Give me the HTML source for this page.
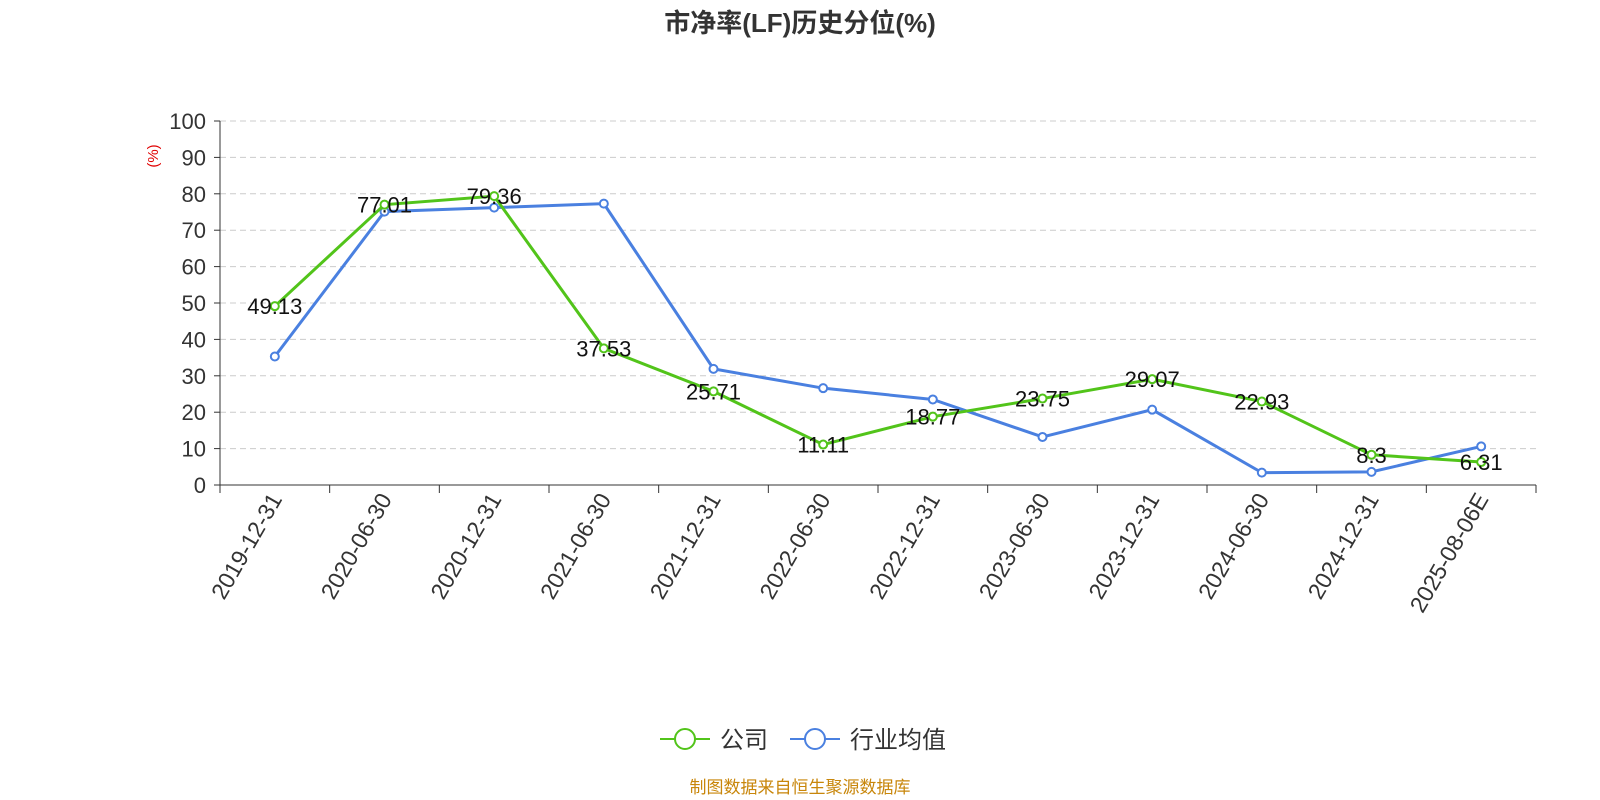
<!DOCTYPE html>
<html><head><meta charset="utf-8">
<style>
body{margin:0;background:#fff;}
svg{display:block;font-family:"Liberation Sans","Noto Sans CJK SC",sans-serif;}
</style></head>
<body>
<svg id="chart" width="1600" height="800" viewBox="0 0 1600 800">
<text x="800" y="32" text-anchor="middle" font-size="26" font-weight="bold" fill="#333">市净率(LF)历史分位(%)</text>
<text x="158" y="156" font-size="15" fill="#e00000" transform="rotate(-90 158 156)" text-anchor="middle">(%)</text>
<g id="grid"></g><g id="axes"></g><g id="series"></g>
<g>
<g>
<line x1="660" y1="739" x2="710" y2="739" stroke="#52c41a" stroke-width="2"/>
<circle cx="685" cy="739" r="10" fill="#fff" stroke="#52c41a" stroke-width="2"/>
<text x="720" y="748" font-size="24" fill="#333">公司</text></g>
<g>
<line x1="790" y1="739" x2="840" y2="739" stroke="#4a80e0" stroke-width="2"/>
<circle cx="815" cy="739" r="10" fill="#fff" stroke="#4a80e0" stroke-width="2"/>
<text x="850" y="748" font-size="24" fill="#333">行业均值</text></g>
</g>
<text x="800" y="793" text-anchor="middle" font-size="17" fill="#c8860a">制图数据来自恒生聚源数据库</text>
</svg>
<script>
const categories=["2019-12-31","2020-06-30","2020-12-31","2021-06-30","2021-12-31","2022-06-30","2022-12-31","2023-06-30","2023-12-31","2024-06-30","2024-12-31","2025-08-06E"];
const companyValues=[49.13,77.01,79.36,37.53,25.71,11.11,18.77,23.75,29.07,22.93,8.3,6.31];
const industryValues=[35.3,75.1,76.2,77.3,31.9,26.6,23.5,13.2,20.7,3.4,3.6,10.6];
const yTicks=[0,10,20,30,40,50,60,70,80,90,100];
const NS="http://www.w3.org/2000/svg";
const X0=220,X1=1536,Y0=485,Y1=121;
const band=(X1-X0)/categories.length;
const xPos=i=>X0+band*(i+0.5);
const yPos=v=>Y0-(v/100)*(Y0-Y1);
function mk(tag,attrs,parent){const e=document.createElementNS(NS,tag);for(const k in attrs)e.setAttribute(k,attrs[k]);parent.appendChild(e);return e;}
const grid=document.getElementById('grid'),axes=document.getElementById('axes'),series=document.getElementById('series');
yTicks.forEach(t=>{
 const y=yPos(t);
 if(t>0){const g=mk('line',{x1:X0,x2:X1,y1:y,y2:y,stroke:'#ccc','stroke-dasharray':'6,4'},grid);
 
 }
 const tk=mk('line',{x1:X0-6,x2:X0,y1:y,y2:y,stroke:'#333'},axes);
 
 
 const lb=mk('text',{x:X0-14,y:y+8,'text-anchor':'end','font-size':22,fill:'#333'},axes);
 lb.textContent=t;
 
 
});
const ya=mk('line',{x1:X0,x2:X0,y1:Y1,y2:Y0,stroke:'#333'},axes);


const xa=mk('line',{x1:X0,x2:X1,y1:Y0,y2:Y0,stroke:'#333'},axes);


for(let i=0;i<=categories.length;i++){
 const x=X0+band*i;
 const tk=mk('line',{x1:x,x2:x,y1:Y0,y2:Y0+8,stroke:'#333'},axes);
 
 
}
categories.forEach((c,i)=>{
 const x=xPos(i)+8,y=Y0+14;
 const t=mk('text',{x:x,y:y,'text-anchor':'end','font-size':23,fill:'#333',transform:`rotate(-60 ${x} ${y})`},axes);
 t.textContent=c;
 
 
});
function drawSeries(vals,color,name,labels){
 const g=mk('g',{},series);
 
 
 const p=mk('polyline',{points:vals.map((v,i)=>xPos(i)+','+yPos(v)).join(' '),fill:'none',stroke:color,'stroke-width':3},g);
 
 
 vals.forEach((v,i)=>{
  const c=mk('circle',{cx:xPos(i),cy:yPos(v),r:4,fill:'#fff',stroke:color,'stroke-width':2},g);
  
  
 });
 if(labels)vals.forEach((v,i)=>{
  const t=mk('text',{x:xPos(i),y:yPos(v)+8,'text-anchor':'middle','font-size':22,fill:'#111'},g);
  t.textContent=v;
  
  
 });
}
drawSeries(industryValues,'#4a80e0','industry',false);
drawSeries(companyValues,'#52c41a','company',true);
</script>
</body></html>
